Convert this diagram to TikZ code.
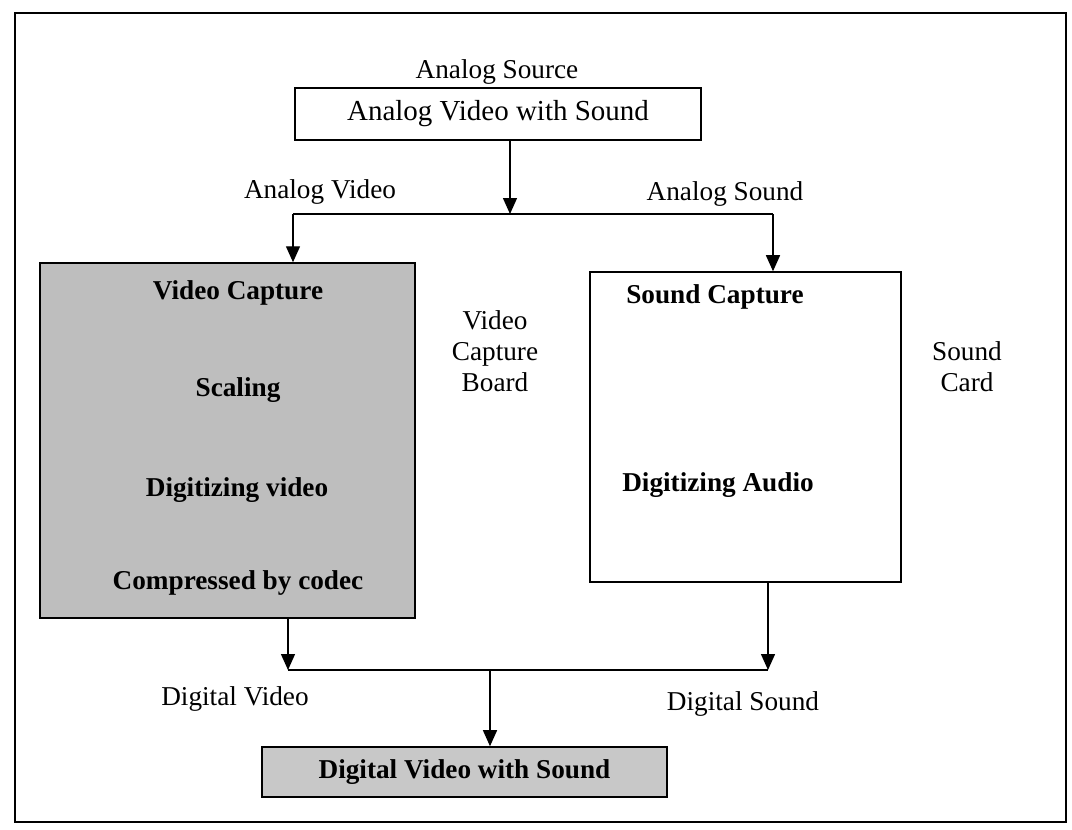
\documentclass[tikz,border=0pt]{standalone}
\usepackage{fontspec}
\setmainfont{Liberation Serif}
\usetikzlibrary{arrows.meta}
\definecolor{boardgrey}{RGB}{190,190,190}
\definecolor{outgrey}{RGB}{200,200,200}

\begin{document}
\begin{tikzpicture}[x=0.02cm,y=-0.02cm,
    font=\fontsize{15.5}{17.6}\selectfont,
    box/.style={draw,line width=0.9pt,inner sep=0pt},
    wire/.style={line width=0.8pt},
    arr/.style={wire,-{Triangle[length=0.32cm,width=0.28cm]}},
    stage/.style={font=\fontsize{15.5}{17.6}\selectfont\bfseries}]
  \useasboundingbox (0,0) rectangle (1072,829);
  \draw[line width=1pt] (15,13) rectangle (1066,822);

  % source
  \node (lsrc) at (497,72) {Analog Source};
  \node[box,minimum width=8.12cm,minimum height=1.04cm,font=\fontsize{16.5}{19}\selectfont] (src) at (498,114) {Analog Video with Sound};

  % capture boards
  \node[box,fill=boardgrey,minimum width=7.5cm,minimum height=7.1cm] (vbox) at (227.5,440.5) {};
  \node[box,fill=white,minimum width=6.22cm,minimum height=6.2cm] (sbox) at (745.5,427) {};
  \node[stage] (vcap) at (238,293) {Video Capture};
  \node[stage] (vscale) at (238,390) {Scaling};
  \node[stage] (vdig) at (237,490) {Digitizing video};
  \node[stage] (vcomp) at (238,583) {Compressed by codec};
  \node[stage] (scap) at (715,297) {Sound Capture};
  \node[stage] (sdig) at (718,485) {Digitizing Audio};
  \node[align=center] (lvboard) at (495,351) {Video\\Capture\\Board};
  \node[align=center] (lscard) at (967,367) {Sound\\Card};

  % result
  \node[box,fill=outgrey,minimum width=8.1cm,minimum height=1cm,stage] (dst) at (464.5,772) {Digital Video with Sound};

  % labels on the wires
  \node (lav) at (320,192) {Analog Video};
  \node (las) at (725,194) {Analog Sound};
  \node (ldv) at (235,699) {Digital Video};
  \node (lds) at (743,704) {Digital Sound};

  % split
  \coordinate (split) at (510,214);
  \coordinate (vturn) at (293,214);
  \coordinate (sturn) at (773,214);
  \draw[arr] (src.south -| split) -- (split);
  \draw[wire] (vturn) -- (sturn);
  \draw[arr] (vturn) -- (vturn |- vbox.north);
  \draw[arr] (sturn) -- (sturn |- sbox.north);

  % join
  \coordinate (vout) at (288,670);
  \coordinate (sout) at (768,670);
  \coordinate (join) at (490,670);
  \draw[arr] (vout |- vbox.south) -- (vout);
  \draw[arr] (sout |- sbox.south) -- (sout);
  \draw[wire] (vout) -- (sout);
  \draw[arr] (join) -- (join |- dst.north);
\end{tikzpicture}
\end{document}
